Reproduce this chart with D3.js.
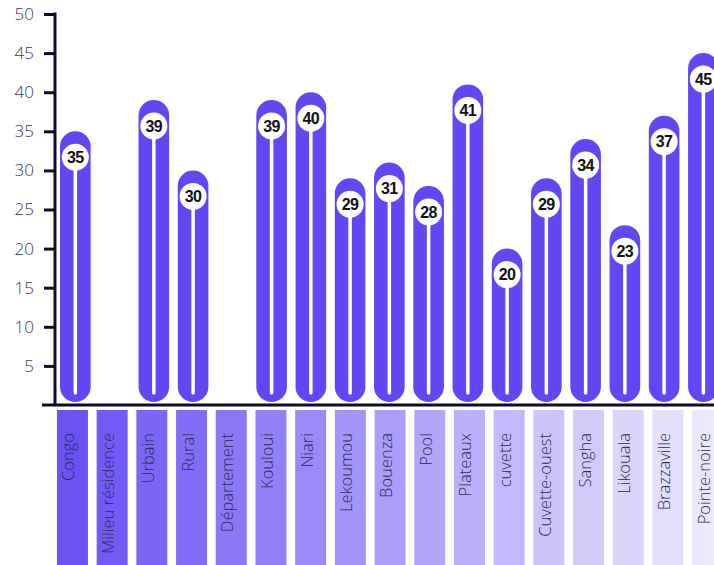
<!DOCTYPE html>
<html>
<head>
<meta charset="utf-8">
<script src="https://cdn.jsdelivr.net/npm/d3@7"></script>
<style>
  html, body { margin: 0; padding: 0; background: #ffffff; }
  svg { display: block; }
</style>
</head>
<body>
<svg id="chart" width="714" height="565"></svg>
<script>
// Categories along the x axis (null value = group heading, no bar)
const categories = ["Congo", "Milieu résidence", "Urbain", "Rural", "Département", "Kouloui", "Niari",
  "Lekoumou", "Bouenza", "Pool", "Plateaux", "cuvette", "Cuvette-ouest", "Sangha", "Likouala",
  "Brazzaville", "Pointe-noire"];
const values = [35, null, 39, 30, null, 39, 40, 29, 31, 28, 41, 20, 29, 34, 23, 37, 45];
const yTicks = [5, 10, 15, 20, 25, 30, 35, 40, 45, 50];

const svg = d3.select("#chart");
const barColor = "#6247f4";
const axisColor = "#0f0c2e";
const labelFont = "'Open Sans', Lato, sans-serif";

const x = d3.scaleBand().domain(categories).range([55.7, 723]).paddingInner(0.22).paddingOuter(0.11);
const xTile = d3.scaleBand().domain(categories).range([52.6, 727.5]).paddingInner(0.22).paddingOuter(0.11);
const y = d3.scaleLinear().domain([0, 50]).range([405, 14]);

const bw = x.bandwidth();
const r = bw / 2;

// Pill-shaped bars
const bars = svg.append("g");
const data = categories.map((c, i) => ({ c, v: values[i], i })).filter(d => d.v !== null);

bars.selectAll("rect.bar").data(data).join("rect")
  .attr("class", "bar")
  .attr("x", d => x(d.c))
  .attr("y", d => y(d.v))
  .attr("width", bw)
  .attr("height", d => y(0) - 3 - y(d.v))
  .attr("rx", r).attr("ry", r)
  .attr("fill", barColor);

// White stem running down each bar
bars.selectAll("line.stem").data(data).join("line")
  .attr("x1", d => x(d.c) + r).attr("x2", d => x(d.c) + r)
  .attr("y1", d => y(d.v) + 26).attr("y2", y(0) - 12)
  .attr("stroke", "#ffffff").attr("stroke-width", 3.5).attr("stroke-linecap", "round");

// Value badges
bars.selectAll("circle.badge").data(data).join("circle")
  .attr("cx", d => x(d.c) + r)
  .attr("cy", d => y(d.v) + 26)
  .attr("r", 13.5)
  .attr("fill", "#ffffff");

bars.selectAll("text.val").data(data).join("text")
  .attr("x", d => x(d.c) + r)
  .attr("y", d => y(d.v) + 26)
  .attr("dy", "0.36em")
  .attr("text-anchor", "middle")
  .attr("font-family", "'Liberation Sans', Arial, sans-serif")
  .attr("font-weight", "bold")
  .attr("font-size", 16)
  .attr("letter-spacing", "-0.5")
  .attr("fill", "#111111")
  .text(d => d.v);

// Y axis
const yAxis = svg.append("g").attr("transform", "translate(55,0)")
  .call(d3.axisLeft(y).tickValues(yTicks).tickSize(11).tickPadding(10).tickFormat(d3.format("d")));
yAxis.select(".domain").remove();
yAxis.selectAll(".tick line").attr("stroke", axisColor).attr("stroke-width", 3);
yAxis.selectAll(".tick text")
  .attr("font-family", labelFont)
  .attr("font-weight", 300)
  .attr("font-size", 17)
  .attr("fill", "#3b3b4a");

svg.append("line")
  .attr("x1", 55).attr("x2", 55)
  .attr("y1", y(50) - 1.5).attr("y2", y(0))
  .attr("stroke", axisColor).attr("stroke-width", 3);

// Baseline
svg.append("line")
  .attr("x1", 42).attr("x2", 714)
  .attr("y1", y(0)).attr("y2", y(0))
  .attr("stroke", axisColor).attr("stroke-width", 3);

// Category tiles with rotated labels
const tileColor = d3.scaleLinear().domain([0, categories.length - 1])
  .range(["#6a52f4", "#ebe8fc"]).interpolate(d3.interpolateRgb);

const tiles = svg.append("g");
tiles.selectAll("rect").data(categories).join("rect")
  .attr("x", d => xTile(d))
  .attr("y", 410)
  .attr("width", xTile.bandwidth())
  .attr("height", 160)
  .attr("fill", (d, i) => tileColor(i));

tiles.selectAll("text").data(categories).join("text")
  .attr("transform", d => `translate(${xTile(d) + xTile.bandwidth() / 2 + 2},433) rotate(-90)`)
  .attr("text-anchor", "end")
  .attr("font-family", labelFont)
  .attr("font-weight", 300)
  .attr("font-size", 16.5)
  .attr("fill", "#2c2a55")
  .text(d => d);
</script>
</body>
</html>
